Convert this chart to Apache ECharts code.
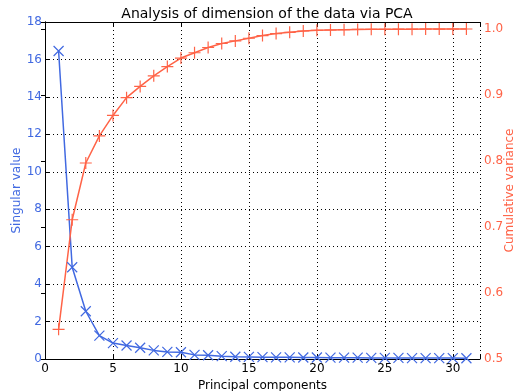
<!DOCTYPE html>
<html>
<head>
<meta charset="utf-8">
<script src="https://cdn.jsdelivr.net/npm/echarts@6/dist/echarts.min.js"></script>
<style>
  html, body {margin: 0; padding: 0; background: #fff;}
  #pca_chart {width: 518px; height: 391px;}
</style>
</head>
<body>
<div id="pca_chart"></div>
<script>
// values
const components = [1,2,3,4,5,6,7,8,9,10,11,12,13,14,15,16,17,18,19,20,21,22,23,24,25,26,27,28,29,30,31];
const singular_ls = [16.45, 4.9, 2.55, 1.25, 0.85, 0.72, 0.6, 0.46, 0.38, 0.36, 0.22, 0.2, 0.15, 0.12, 0.11,
	0.1, 0.09, 0.09, 0.08, 0.08, 0.07, 0.07, 0.07, 0.06, 0.06, 0.06, 0.05, 0.05, 0.05, 0.05, 0.04];
const cumvar_ls = [0.545, 0.711, 0.797, 0.838, 0.869, 0.896, 0.913, 0.929, 0.943, 0.956, 0.964, 0.972, 0.978, 0.982, 0.986,
	0.990, 0.993, 0.995, 0.997, 0.998, 0.9985, 0.999, 0.9993, 0.9995, 0.9996, 0.9997, 0.9998, 0.9999, 0.9999, 1.0, 1.0];
const x_ticks = [0, 5, 10, 15, 20, 25, 30];

const blue = '#4169e1';
const red = '#ff6347';
const font = 'DejaVu Sans';

var chartDom = document.getElementById('pca_chart');
var myChart = echarts.init(chartDom, null, {renderer: 'canvas'});

const cross = 'path://M0,0L10,10M0,10L10,0';
const plus = 'path://M5,0L5,10M0,5L10,5';
const dotted = {color: '#000', width: 1, type: [1, 3]};
const tenth = v => Math.abs(v * 10 - Math.round(v * 10)) < 1e-6 ? v.toFixed(1) : '';

var option = {
  animation: false,
  textStyle: {fontFamily: font},
  title: {text: 'Analysis of dimension of the data via PCA', left: 262, textAlign: 'center', top: 2,
	textStyle: {fontFamily: font, fontSize: 14, fontWeight: 'normal', color: '#000'}},
  grid: {left: 45, right: 38, top: 22, bottom: 32, containLabel: false, outerBoundsMode: 'none'},
  xAxis: [
	{type: 'value', min: 0, max: 32, interval: 5, position: 'bottom',
	 name: 'Principal components', nameLocation: 'middle', nameGap: 21, nameMoveOverlap: false,
	 nameTextStyle: {fontFamily: font, fontSize: 12, color: '#000'},
	 axisLine: {show: true, onZero: false, lineStyle: {color: '#000', width: 1}},
	 axisTick: {show: true, inside: true, length: 4, lineStyle: {color: '#000'}},
	 axisLabel: {fontFamily: font, fontSize: 12, color: '#000', margin: 4,
		formatter: v => x_ticks.indexOf(v) >= 0 ? String(v) : ''},
	 splitLine: {show: true, lineStyle: dotted}},
	{type: 'value', min: 0, max: 32, interval: 5, position: 'top',
	 axisLine: {show: true, onZero: false, lineStyle: {color: '#000', width: 1}},
	 axisTick: {show: true, inside: true, length: 4, lineStyle: {color: '#000'}},
	 axisLabel: {show: false}, splitLine: {show: false}}
  ],
  yAxis: [
	{type: 'value', min: 0, max: 18, interval: 2, position: 'left',
	 name: 'Singular value', nameLocation: 'middle', nameGap: 22, nameRotate: 90, nameMoveOverlap: false,
	 nameTextStyle: {fontFamily: font, fontSize: 12, color: blue},
	 axisLine: {show: true, lineStyle: {color: '#000', width: 1}},
	 axisTick: {show: true, inside: true, length: 4, lineStyle: {color: '#000'}},
	 axisLabel: {fontFamily: font, fontSize: 12, color: blue, margin: 3},
	 splitLine: {show: true, lineStyle: dotted}},
	{type: 'value', min: 0.5, max: 1.0106, interval: 0.1, position: 'right',
	 name: 'Cumulative variance', nameLocation: 'middle', nameGap: 24, nameRotate: 90, nameMoveOverlap: false,
	 nameTextStyle: {fontFamily: font, fontSize: 12, color: red},
	 axisLine: {show: true, lineStyle: {color: '#000', width: 1}},
	 axisTick: {show: true, inside: true, length: 4, lineStyle: {color: '#000'}},
	 axisLabel: {fontFamily: font, fontSize: 12, color: red, margin: 4, formatter: tenth},
	 splitLine: {show: false}}
  ],
  series: [
	{name: 'Singular value', type: 'line', xAxisIndex: 0, yAxisIndex: 0,
	 data: components.map((c, i) => [c, singular_ls[i]]),
	 symbol: cross, symbolSize: 10, showAllSymbol: true,
	 lineStyle: {color: blue, width: 1.5},
	 itemStyle: {color: 'rgba(0,0,0,0)', borderColor: blue, borderWidth: 1.2}},
	{name: 'Cumulative variance', type: 'line', xAxisIndex: 0, yAxisIndex: 1,
	 data: components.map((c, i) => [c, cumvar_ls[i]]),
	 symbol: plus, symbolSize: 12, showAllSymbol: true,
	 lineStyle: {color: red, width: 1.5},
	 itemStyle: {color: 'rgba(0,0,0,0)', borderColor: red, borderWidth: 1.2}}
  ]
};

option && myChart.setOption(option);
</script>
</body>
</html>
